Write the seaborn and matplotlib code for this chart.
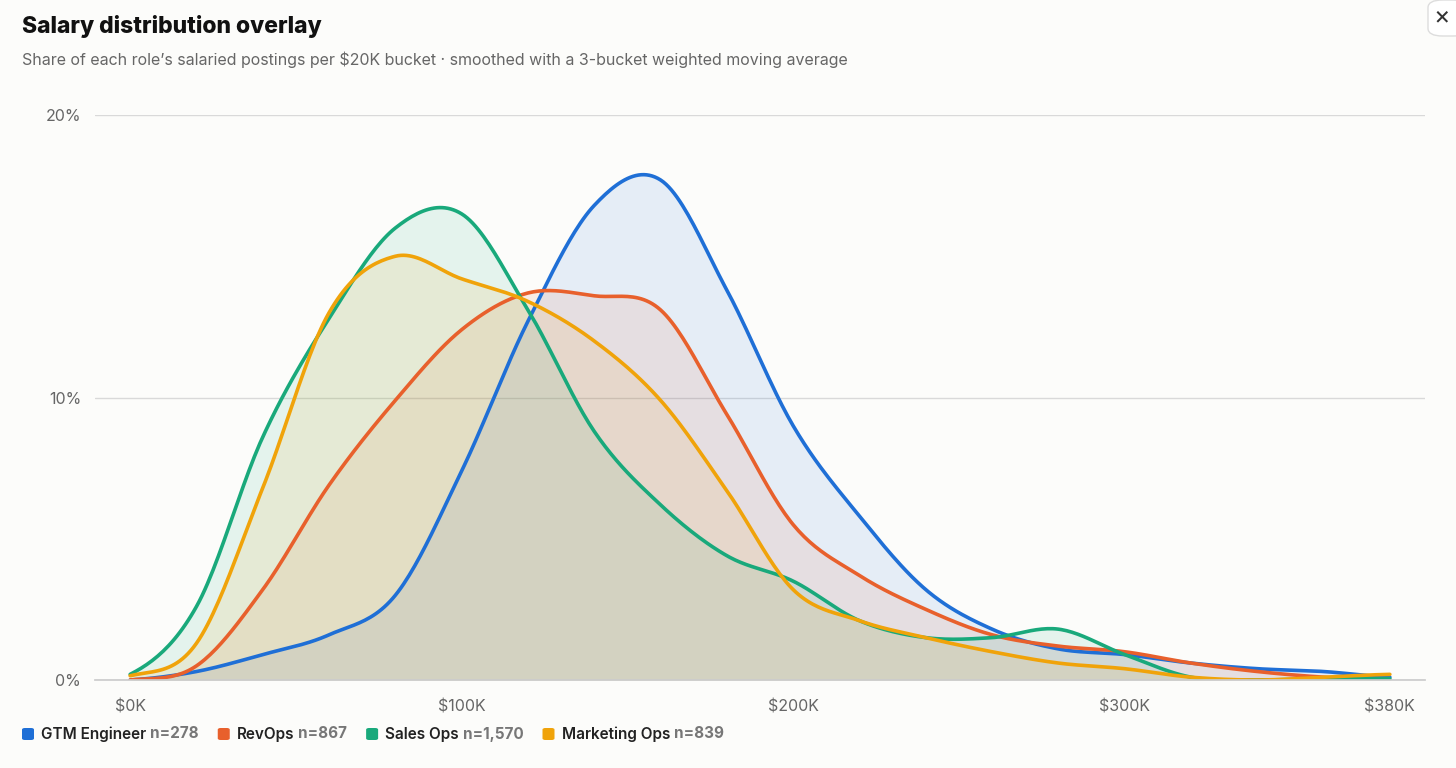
import numpy as np
import pandas as pd
import matplotlib
matplotlib.use("Agg")
import matplotlib.pyplot as plt
from matplotlib.patches import FancyBboxPatch
import seaborn as sns

# ── data: share (%) of postings per $20K bucket ────────────────────────────
buckets = list(range(0, 400, 20))  # $K
roles = ["GTM Engineer", "RevOps", "Sales Ops", "Marketing Ops"]
counts = ["n=278", "n=867", "n=1,570", "n=839"]
colors = ["#1f6fd6", "#e8602c", "#19a97b", "#f0a30a"]

gtm = [0, 0.3, 0.9, 1.6, 3.0, 7.4, 12.7, 16.8, 17.7, 13.8,
       9.0, 5.8, 3.2, 1.8, 1.1, 0.9, 0.6, 0.4, 0.3, 0.1]
revops = [0, 0.5, 3.2, 6.9, 9.9, 12.4, 13.7, 13.6, 13.1, 9.4,
          5.5, 3.7, 2.5, 1.6, 1.2, 1.0, 0.6, 0.3, 0.1, 0.0]
salesops = [0.2, 2.6, 8.6, 12.8, 16.0, 16.5, 13.1, 8.8, 6.2, 4.4,
            3.5, 2.1, 1.5, 1.5, 1.8, 0.9, 0.1, 0.0, 0.05, 0.05]
mktops = [0.15, 1.3, 6.8, 13.0, 15.0, 14.2, 13.4, 12.0, 9.9, 6.7,
          3.2, 2.1, 1.5, 1.0, 0.6, 0.4, 0.1, 0.0, 0.1, 0.2]
series = [gtm, revops, salesops, mktops]


def smooth_curve(x, y, per=24):
    """Catmull-Rom spline through the bucket points, for a smooth line."""
    x = np.asarray(x, float)
    y = np.asarray(y, float)
    xs, ys = [], []
    n = len(x)
    for i in range(n - 1):
        y0 = y[max(i - 1, 0)]
        y1, y2 = y[i], y[i + 1]
        y3 = y[min(i + 2, n - 1)]
        t = np.linspace(0, 1, per, endpoint=False)
        m1 = (y2 - y0) / 2
        m2 = (y3 - y1) / 2
        h00 = 2 * t**3 - 3 * t**2 + 1
        h10 = t**3 - 2 * t**2 + t
        h01 = -2 * t**3 + 3 * t**2
        h11 = t**3 - t**2
        xs.append(x[i] + t * (x[i + 1] - x[i]))
        ys.append(h00 * y1 + h10 * m1 + h01 * y2 + h11 * m2)
    xs.append([x[-1]])
    ys.append([y[-1]])
    return np.concatenate(xs), np.clip(np.concatenate(ys), 0, None)


frames = []
for role, vals in zip(roles, series):
    xs, ys = smooth_curve(buckets, vals)
    frames.append(pd.DataFrame({"salary": xs, "share": ys, "role": role}))
df = pd.concat(frames, ignore_index=True)

# ── figure ─────────────────────────────────────────────────────────────────
sns.set_theme(style="white")
plt.rcParams["font.family"] = ["Inter", "DejaVu Sans"]
bg = "#fcfcfa"
fig = plt.figure(figsize=(14.56, 7.68), dpi=100, facecolor=bg)
ax = fig.add_axes([95 / 1456, 1 - 680 / 768, 1330 / 1456, 565 / 768], facecolor=bg)

for role, col in zip(roles, colors):
    d = df[df.role == role]
    ax.fill_between(d.salary, d.share, color=col, alpha=0.1, linewidth=0)
sns.lineplot(data=df, x="salary", y="share", hue="role", palette=colors,
             hue_order=roles, linewidth=2.6, legend=False, ax=ax, sort=False)

ax.set_xlim(-10.6, 390.6)
ax.set_ylim(0, 20)
ax.set_xticks([0, 100, 200, 300, 380])
ax.set_xticklabels(["$0K", "$100K", "$200K", "$300K", "$380K"])
ax.set_yticks([0, 10, 20])
ax.set_yticklabels(["0%", "10%", "20%"])
ax.tick_params(axis="both", length=0, labelsize=11.5, colors="#666666")
ax.tick_params(axis="x", pad=14)
ax.tick_params(axis="y", pad=10)
ax.set_xlabel("")
ax.set_ylabel("")
ax.grid(axis="y", color="#d9d9d9", linewidth=1)
for s in ["top", "right", "left"]:
    ax.spines[s].set_visible(False)
ax.spines["bottom"].set_color("#cccccc")
ax.set_axisbelow(True)

fig.text(22 / 1456, 1 - 27 / 768, "Salary distribution overlay", fontsize=16.5,
         fontweight="heavy", color="#111111", va="center")
fig.text(22 / 1456, 1 - 60 / 768,
         "Share of each role\u2019s salaried postings per $20K bucket \u00b7 "
         "smoothed with a 3-bucket weighted moving average",
         fontsize=11.5, color="#666666", va="center")

# close button in the corner
fig.patches.append(FancyBboxPatch((1428 / 1456, 1 - 36 / 768), 40 / 1456, 36 / 768,
                                  boxstyle="round,pad=0,rounding_size=0.01",
                                  transform=fig.transFigure, facecolor="white",
                                  edgecolor="#dddddd", linewidth=1))
fig.text(1442 / 1456, 1 - 17 / 768, "\u00d7", fontsize=18, color="#333333",
         ha="center", va="center")

# legend row
fig.canvas.draw()
renderer = fig.canvas.get_renderer()
x = 22
y = 1 - 734 / 768
for role, cnt, col in zip(roles, counts, colors):
    fig.patches.append(FancyBboxPatch((x / 1456, y - 6 / 768), 12 / 1456, 12 / 768,
                                      boxstyle="round,pad=0,rounding_size=0.002",
                                      transform=fig.transFigure, facecolor=col,
                                      edgecolor="none"))
    x += 19
    t1 = fig.text(x / 1456, y, role, fontsize=11, color="#222222",
                  fontweight="semibold", va="center")
    x += t1.get_window_extent(renderer).width + 4
    t2 = fig.text(x / 1456, y, cnt, fontsize=11, color="#777777",
                  fontweight="bold", va="center")
    x += t2.get_window_extent(renderer).width + 19

fig.savefig("out.png", dpi=100, facecolor=bg)
